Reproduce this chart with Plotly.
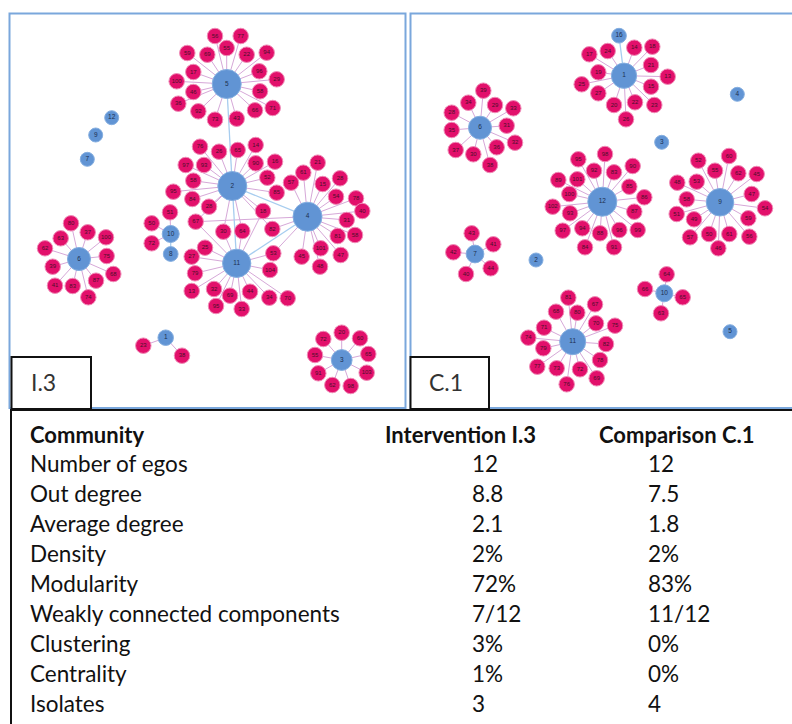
import plotly.graph_objects as go

# ------------------------------------------------------------------
# Panel I.3 (intervention community) - ego nodes
# ------------------------------------------------------------------
L_ego_labels = ["5", "2", "4", "11", "10", "8", "6", "3", "1", "12", "9", "7"]
L_ego_x = [226.7, 232.3, 307.5, 236.7, 170.7, 170.7, 79.0, 341.7, 165.7, 111.7, 95.7, 87.3]
L_ego_y = [84.0, 186.0, 216.7, 263.3, 234.0, 254.0, 259.0, 360.0, 337.7, 117.7, 135.0, 159.3]
L_ego_links = [("5", "2"), ("2", "11"), ("2", "4"), ("11", "4"), ("10", "8")]

# alters: label, x, y, ego(s) they are linked to
L_alt_labels = [
    "56", "77", "59", "69", "55", "22", "94", "17", "96", "100", "29", "46", "58", "36", "92", "73", "43", "66", "71",
    "76", "26", "65", "14", "97", "93", "90", "16", "58", "52", "95", "85", "84", "28", "18", "67", "30", "64", "82",
    "57", "61", "21", "15", "28", "54", "78", "40", "31", "81", "58", "101", "47", "45", "48",
    "25", "27", "79", "53", "104", "13", "32", "69", "44", "34", "95", "33", "70",
    "51", "50", "72",
    "80", "37", "100", "63", "62", "75", "39", "68", "41", "83", "87", "74",
    "23", "38",
    "20", "72", "60", "55", "65", "91", "103", "62", "98",
]
L_alt_x = [
    215.0, 240.7, 187.3, 207.3, 226.7, 246.7, 266.7, 193.3, 259.3, 176.7, 276.7, 193.3, 260.0, 178.3, 198.3, 215.0, 236.7, 255.0, 272.7,
    200.0, 219.0, 237.7, 255.7, 185.7, 204.0, 255.7, 275.0, 193.3, 267.3, 173.3, 276.7, 192.3, 209.0, 263.0, 195.7, 223.3, 242.3, 272.3,
    291.0, 303.3, 317.7, 322.7, 340.0, 336.0, 356.0, 362.3, 346.7, 337.7, 355.0, 320.7, 340.7, 301.7, 320.0,
    205.0, 191.7, 195.0, 273.3, 270.0, 191.7, 214.0, 230.0, 250.0, 269.3, 216.0, 241.7, 287.7,
    170.0, 151.7, 151.7,
    71.0, 87.7, 106.0, 60.7, 45.0, 106.7, 52.7, 113.3, 55.0, 72.7, 96.0, 88.3,
    143.3, 182.0,
    341.7, 323.3, 360.0, 315.0, 368.3, 318.3, 366.7, 332.3, 350.7,
]
L_alt_y = [
    36.0, 36.0, 53.0, 54.7, 48.0, 54.7, 52.7, 72.0, 71.3, 81.3, 79.3, 92.0, 91.3, 103.7, 111.3, 119.7, 118.7, 110.3, 108.0,
    146.7, 151.7, 150.0, 145.0, 165.0, 165.0, 163.3, 161.7, 180.7, 177.7, 191.7, 192.7, 199.0, 206.7, 211.0, 221.7, 231.7, 231.0, 229.0,
    182.7, 172.7, 162.7, 184.0, 178.3, 196.7, 198.3, 211.0, 220.0, 236.0, 235.0, 248.3, 255.0, 256.7, 266.7,
    247.7, 256.7, 273.3, 253.3, 270.0, 291.0, 289.0, 295.7, 291.7, 297.7, 306.0, 309.0, 298.3,
    212.3, 223.3, 243.3,
    223.3, 232.3, 237.3, 238.3, 248.3, 256.0, 266.7, 274.0, 285.7, 286.0, 280.7, 297.3,
    345.7, 355.7,
    332.7, 339.0, 338.3, 355.0, 354.0, 373.3, 372.7, 385.0, 386.0,
]
L_alt_egos = (
    ["5"] * 19
    + ["2"] * 14 + ["2 11", "2 11 4", "11 2", "11 2", "4 2"]
    + ["4"] * 15
    + ["11", "11", "11", "11 4", "11", "11", "11", "11", "11", "11", "11", "11", "11"]
    + ["10"] * 3
    + ["6"] * 12
    + ["1"] * 2
    + ["3"] * 9
)

# ------------------------------------------------------------------
# Panel C.1 (comparison community) - ego nodes
# ------------------------------------------------------------------
R_ego_labels = ["1", "16", "6", "12", "9", "7", "10", "11", "4", "3", "2", "5"]
R_ego_x = [624.0, 619.0, 480.0, 602.3, 720.0, 475.0, 664.3, 572.7, 737.3, 661.7, 536.0, 730.0]
R_ego_y = [75.7, 35.7, 127.7, 201.7, 202.3, 254.0, 293.3, 341.7, 94.3, 142.3, 260.0, 331.7]
R_ego_links = [("16", "1")]

R_alt_labels = [
    "17", "24", "14", "18", "19", "21", "13", "25", "15", "27", "20", "22", "23", "26",
    "39", "34", "29", "33", "28", "31", "35", "32", "36", "37", "30", "38",
    "98", "95", "90", "92", "83", "89", "101", "85", "100", "86", "102", "93", "87", "97", "94", "96", "99", "88", "84", "91",
    "60", "52", "55", "62", "45", "48", "53", "47", "58", "54", "51", "49", "59", "57", "50", "61", "56", "46",
    "43", "41", "42", "44", "40",
    "64", "66", "65", "63",
    "81", "68", "80", "67", "71", "70", "75", "74", "82", "79", "78", "77", "73", "72", "69", "76",
]
R_alt_x = [
    589.3, 607.7, 634.3, 652.3, 598.3, 651.0, 667.7, 581.7, 651.0, 598.3, 614.0, 635.0, 654.3, 626.0,
    483.3, 468.3, 495.0, 513.3, 451.7, 506.7, 451.7, 515.0, 496.7, 455.7, 473.3, 490.0,
    605.0, 578.3, 632.7, 594.0, 614.0, 558.3, 577.3, 629.3, 569.3, 644.3, 552.7, 570.0, 634.3, 562.7, 582.3, 619.3, 637.7, 600.0, 585.0, 614.0,
    729.0, 698.3, 715.0, 738.3, 756.7, 677.3, 696.7, 751.7, 686.7, 765.0, 676.7, 694.0, 748.3, 690.0, 709.0, 729.3, 749.3, 718.3,
    471.7, 493.3, 453.3, 490.7, 466.0,
    666.7, 645.0, 682.7, 661.0,
    568.3, 556.0, 577.3, 595.0, 544.0, 596.0, 615.0, 528.3, 606.0, 543.3, 600.0, 537.3, 556.7, 580.0, 596.7, 566.7,
]
R_alt_y = [
    54.3, 51.0, 47.7, 46.7, 72.3, 65.0, 76.7, 84.3, 86.7, 93.3, 105.0, 102.3, 105.0, 119.3,
    90.7, 102.7, 105.0, 108.3, 112.7, 125.7, 130.0, 142.7, 147.3, 150.0, 154.3, 165.0,
    154.0, 159.3, 166.0, 170.7, 172.3, 180.0, 179.3, 186.7, 194.0, 197.3, 206.7, 213.3, 211.7, 230.7, 228.3, 230.0, 230.0, 233.3, 247.3, 247.3,
    156.0, 160.7, 170.7, 173.3, 174.0, 182.7, 181.7, 194.0, 199.3, 208.3, 214.0, 219.3, 218.3, 237.3, 234.0, 234.0, 236.7, 248.3,
    233.3, 244.3, 252.3, 268.3, 274.0,
    274.3, 289.0, 297.3, 313.3,
    297.7, 311.7, 312.7, 304.3, 327.7, 323.3, 325.7, 337.7, 344.0, 348.3, 360.0, 366.7, 368.3, 369.3, 378.3, 384.3,
]
R_alt_egos = ["1"] * 14 + ["6"] * 12 + ["12"] * 20 + ["9"] * 18 + ["7"] * 5 + ["10"] * 4 + ["11"] * 16

# ------------------------------------------------------------------
# Table of network statistics
# ------------------------------------------------------------------
table_header = ["Community", "Intervention I.3", "Comparison C.1"]
metrics = ["Number of egos", "Out degree", "Average degree", "Density", "Modularity",
           "Weakly connected components", "Clustering", "Centrality", "Isolates"]
intervention_vals = ["12", "8.8", "2.1", "2%", "72%", "7/12", "3%", "1%", "3"]
comparison_vals = ["12", "7.5", "1.8", "2%", "83%", "11/12", "0%", "0%", "4"]
panel_labels = ["I.3", "C.1"]

# ------------------------------------------------------------------
ALTER_COLOR = "#E2106B"
EGO_COLOR = "#6194D4"
ALTER_EDGE = "#D6A8D8"
EGO_EDGE = "#A7CDEF"

fig = go.Figure()


def add_network(ego_labels, ego_x, ego_y, ego_links, alt_labels, alt_x, alt_y, alt_egos):
    epos = {lab: (x, y) for lab, x, y in zip(ego_labels, ego_x, ego_y)}
    deg = {lab: 0 for lab in ego_labels}
    ex, ey = [], []
    for x, y, egos in zip(alt_x, alt_y, alt_egos):
        for e in egos.split():
            gx, gy = epos[e]
            ex += [x, gx, None]
            ey += [y, gy, None]
            deg[e] += 1
    bx, by = [], []
    for a, b in ego_links:
        bx += [epos[a][0], epos[b][0], None]
        by += [epos[a][1], epos[b][1], None]
        deg[a] += 1
        deg[b] += 1
    fig.add_trace(go.Scatter(x=ex, y=ey, mode="lines", line=dict(color=ALTER_EDGE, width=1),
                             hoverinfo="skip", showlegend=False))
    fig.add_trace(go.Scatter(x=bx, y=by, mode="lines", line=dict(color=EGO_EDGE, width=1.3),
                             hoverinfo="skip", showlegend=False))
    fig.add_trace(go.Scatter(
        x=alt_x, y=alt_y, mode="markers+text", text=alt_labels,
        textposition="middle center", textfont=dict(size=6, color="#4a0f2a", family="Arial"),
        marker=dict(size=15.5, color=ALTER_COLOR, opacity=1, line=dict(color="#F08DB8", width=1)),
        hoverinfo="text", showlegend=False))
    sizes = [14 + 15 * min(deg[l], 20) / 20 for l in ego_labels]
    fig.add_trace(go.Scatter(
        x=ego_x, y=ego_y, mode="markers+text", text=ego_labels,
        textposition="middle center", textfont=dict(size=6.5, color="#1d2f4f", family="Arial"),
        marker=dict(size=sizes, color=EGO_COLOR, opacity=1, line=dict(color="#84AEE0", width=1)),
        hoverinfo="text", showlegend=False))


add_network(L_ego_labels, L_ego_x, L_ego_y, L_ego_links, L_alt_labels, L_alt_x, L_alt_y, L_alt_egos)
add_network(R_ego_labels, R_ego_x, R_ego_y, R_ego_links, R_alt_labels, R_alt_x, R_alt_y, R_alt_egos)

shapes = []
# panel borders
shapes.append(dict(type="rect", x0=9.5, y0=13.5, x1=405.5, y1=408, line=dict(color="#7AA7DC", width=2)))
shapes.append(dict(type="rect", x0=410.5, y0=13.5, x1=800, y1=408, line=dict(color="#7AA7DC", width=2)))
# label boxes
shapes.append(dict(type="rect", x0=11.5, y0=357, x1=91, y1=409, line=dict(color="#111", width=2),
                   fillcolor="white"))
shapes.append(dict(type="rect", x0=410.5, y0=357, x1=489, y1=409, line=dict(color="#111", width=2),
                   fillcolor="white"))
# table frame
shapes.append(dict(type="line", x0=11, y0=410, x1=800, y1=410, line=dict(color="#111", width=2)))
shapes.append(dict(type="line", x0=11, y0=409, x1=11, y1=730, line=dict(color="#111", width=2)))

annotations = []
for lab, x in zip(panel_labels, [29, 427]):
    annotations.append(dict(x=x, y=382, text=lab, showarrow=False, xanchor="left", yanchor="middle",
                            font=dict(size=23, color="#333", family="Lato")))

TFONT = "Lato"
TSIZE = 22.5
hx = [28, 383, 597]
for t, x in zip(table_header, hx):
    annotations.append(dict(x=x, y=434, text="<b>" + t + "</b>", showarrow=False, xanchor="left",
                            yanchor="middle", font=dict(size=TSIZE - 0.5, color="#111", family=TFONT)))
for i, (m, a, b) in enumerate(zip(metrics, intervention_vals, comparison_vals)):
    y = 463.5 + 30 * i
    for t, x in zip([m, a, b], [28, 470, 646]):
        annotations.append(dict(x=x, y=y, text=t, showarrow=False, xanchor="left", yanchor="middle",
                                font=dict(size=TSIZE, color="#111", family=TFONT)))

fig.update_layout(
    width=792, height=724, autosize=False,
    margin=dict(l=0, r=0, t=0, b=0),
    paper_bgcolor="white", plot_bgcolor="white",
    xaxis=dict(range=[0, 792], visible=False, fixedrange=True),
    yaxis=dict(range=[724, 0], visible=False, fixedrange=True),
    shapes=shapes, annotations=annotations,
)

fig.write_html("out.html")
